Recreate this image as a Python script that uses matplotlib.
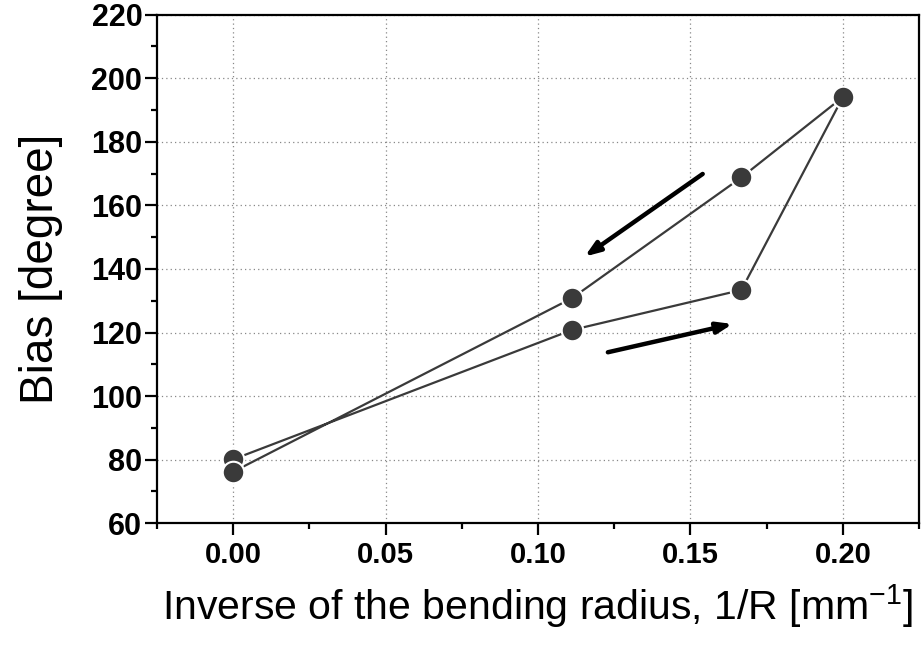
import matplotlib
matplotlib.use("Agg")
import matplotlib.pyplot as plt
from matplotlib.ticker import MultipleLocator

plt.rcParams["font.family"] = ["Liberation Sans", "DejaVu Sans"]
plt.rcParams["mathtext.default"] = "regular"

# loop: loading path then unloading path
inv_radius = [0.0, 0.1111, 0.1667, 0.2, 0.1667, 0.1111, 0.0]
bias = [80.1, 120.8, 133.4, 194.1, 168.8, 130.8, 76.2]

x_ticks = [0.0, 0.05, 0.10, 0.15, 0.20]
y_ticks = [60, 80, 100, 120, 140, 160, 180, 200, 220]

fig = plt.figure(figsize=(9.21, 6.51), dpi=100)
ax = fig.add_axes([0.1704, 0.1962, 0.8276, 0.7812])

ax.plot(inv_radius, bias, color="#3a3a3a", lw=1.6, marker="o", ms=15.5,
        mfc="#3a3a3a", mec="white", mew=1.5, zorder=3)

# direction arrows
arrow = dict(arrowstyle="-|>,head_length=0.9,head_width=0.33", color="black",
             lw=3.2, shrinkA=0, shrinkB=0)
ax.annotate("", xy=(0.1153, 143.9), xytext=(0.154, 169.9), arrowprops=arrow)
ax.annotate("", xy=(0.1638, 122.7), xytext=(0.1229, 113.8), arrowprops=arrow)

ax.set_xlim(-0.025, 0.225)
ax.set_ylim(60, 220)
ax.set_xticks(x_ticks)
ax.set_xticklabels([f"{v:.2f}" for v in x_ticks])
ax.set_yticks(y_ticks)
ax.xaxis.set_minor_locator(MultipleLocator(0.025))
ax.yaxis.set_minor_locator(MultipleLocator(10))

ax.grid(True, which="major", ls=(0, (1, 2.5)), color="#888888", lw=0.9)
ax.set_axisbelow(True)

for s in ax.spines.values():
    s.set_linewidth(1.6)
ax.tick_params(which="major", direction="out", length=8.5, width=1.6)
ax.tick_params(which="minor", direction="out", length=4.5, width=1.6)
ax.tick_params(axis="x", labelsize=21, pad=4)
ax.tick_params(axis="y", labelsize=22, pad=2)
for lab in ax.get_xticklabels() + ax.get_yticklabels():
    lab.set_fontweight("bold")

ax.set_xlabel("Inverse of the bending radius, 1/R [mm$^{-1}$]", fontsize=29.5,
              labelpad=10)
ax.set_ylabel("Bias [degree]", fontsize=33, labelpad=20)

fig.savefig("out.png", dpi=100)
